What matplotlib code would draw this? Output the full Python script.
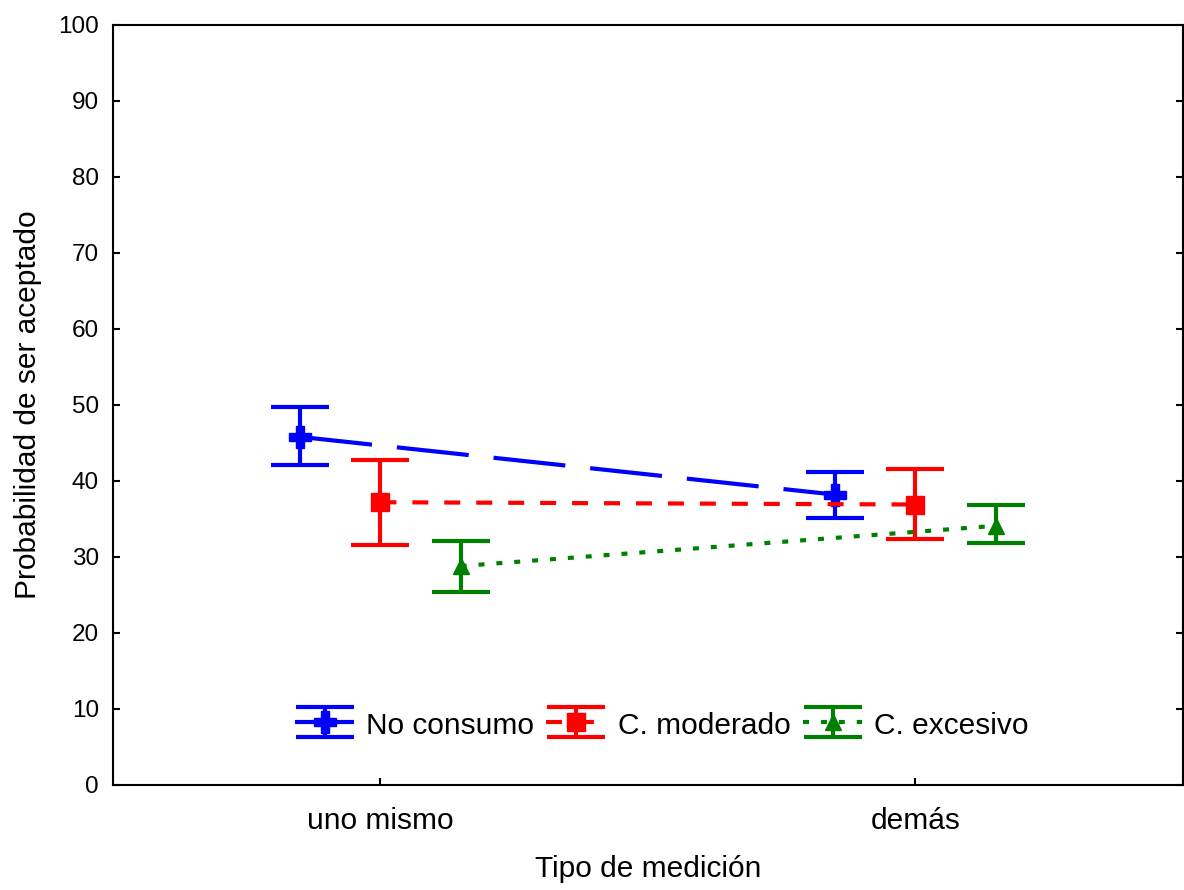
import matplotlib.pyplot as plt
import numpy as np

plt.rcParams['font.family'] = ['Liberation Sans', 'DejaVu Sans']
plt.rcParams['lines.scale_dashes'] = False

categories = ["uno mismo", "demás"]
groups = ["No consumo", "C. moderado", "C. excesivo"]

# means and 95% interval limits per group (uno mismo, demás)
means = {
    "No consumo": [45.8, 38.2],
    "C. moderado": [37.2, 36.9],
    "C. excesivo": [28.8, 34.1],
}
lower = {
    "No consumo": [42.1, 35.1],
    "C. moderado": [31.6, 32.4],
    "C. excesivo": [25.4, 31.8],
}
upper = {
    "No consumo": [49.7, 41.2],
    "C. moderado": [42.7, 41.6],
    "C. excesivo": [32.1, 36.9],
}

colors = ["#0000ff", "#ff0000", "#008000"]
markers = ["P", "s", "^"]
msizes = [16, 13, 12]
dashes = [(52, 18), (11.5, 11.5), (4.3, 8.6)]
offsets = [-0.15, 0.0, 0.15]

fig = plt.figure(figsize=(11.84, 8.90), dpi=100)
ax = fig.add_axes([0.0954, 0.118, 0.9036, 0.854])

x = np.arange(len(categories))
for g, c, m, ms, d, off in zip(groups, colors, markers, msizes, dashes, offsets):
    y = np.array(means[g])
    err = [y - np.array(lower[g]), np.array(upper[g]) - y]
    cont = ax.errorbar(x + off, y, yerr=err, color=c, marker=m, markersize=ms,
                       linewidth=3, elinewidth=3, capsize=21, capthick=3,
                       label=g)
    cont[0].set_dashes(d)

ax.set_xlim(-0.5, 1.5)
ax.set_ylim(0, 100)
ax.set_yticks(range(0, 101, 10))
ax.set_xticks(x)
ax.set_xticklabels(categories)
ax.tick_params(direction='in', length=5, width=1.5, right=True, top=False)
ax.tick_params(axis='x', pad=16, labelsize=21.5)
ax.tick_params(axis='y', pad=10, labelsize=17.5)
for s in ax.spines.values():
    s.set_linewidth(1.5)

ax.set_xlabel("Tipo de medición", fontsize=21.5, labelpad=14)
ax.set_ylabel("Probabilidad de ser aceptado", fontsize=21.5, labelpad=12)

ax.legend(loc='center', bbox_to_anchor=(0.513, 0.079), ncol=3, frameon=False,
          fontsize=21.5, handlelength=2.0, handleheight=1.0,
          handletextpad=0.4, columnspacing=0.4)

fig.savefig("out.png")
